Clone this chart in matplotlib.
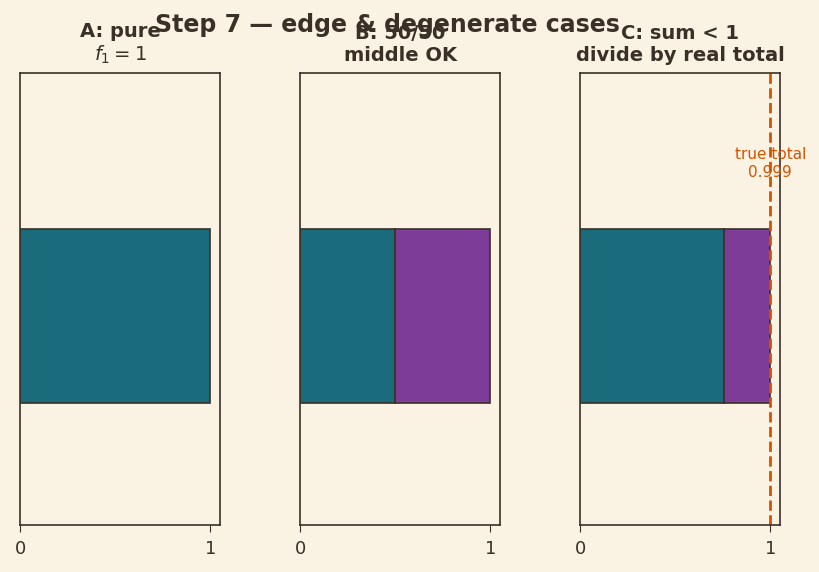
import matplotlib
matplotlib.use("Agg")
import matplotlib.pyplot as plt

BG = "#faf2e3"
INK = "#3a3028"
TEAL = "#1a6b7b"
PURPLE = "#7d3c98"
ORANGE = "#d35400"

titles = ["A: pure\n$f_1 = 1$", "B: 50/50\nmiddle OK", "C: sum < 1\ndivide by real total"]
first_share = [1.0, 0.5, 0.758]
second_share = [0.0, 0.5, 0.241]
true_total = 0.999

fig = plt.figure(figsize=(8.19, 5.72), dpi=100, facecolor=BG)
lefts = [20, 300, 580]
for i, left in enumerate(lefts):
    ax = fig.add_axes([left / 819, 1 - 525 / 572, 200 / 819, 452 / 572])
    ax.set_facecolor(BG)
    ax.barh(0, first_share[i], height=0.5, color=TEAL, edgecolor=INK, linewidth=1.2)
    if second_share[i] > 0:
        ax.barh(0, second_share[i], left=first_share[i], height=0.5,
                color=PURPLE, edgecolor=INK, linewidth=1.2)
    ax.set_xlim(0, 1.05)
    ax.set_ylim(-0.6, 0.7)
    ax.set_yticks([])
    ax.set_xticks([0, 1])
    ax.tick_params(axis="x", colors=INK, labelsize=13, length=5, pad=5.5)
    for s in ax.spines.values():
        s.set_color(INK)
        s.set_linewidth(1.2)
    ax.set_title(titles[i], fontsize=14, fontweight="bold", color=INK, pad=8.5)
    if i == 2:
        ax.axvline(true_total, color=ORANGE, linestyle="--", linewidth=2)
        ax.text(true_total, 0.44, "true total\n0.999", color=ORANGE, ha="center",
                va="center", fontsize=11)

fig.suptitle("Step 7 — edge & degenerate cases", fontsize=17, fontweight="bold",
             color=INK, x=0.473, y=0.956, va="center")
fig.savefig("out.png", facecolor=BG)
